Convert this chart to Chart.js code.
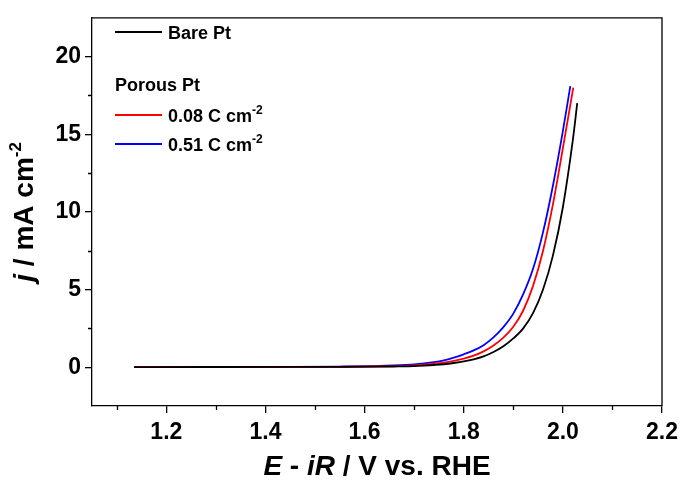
<!DOCTYPE html>
<html>
<head>
<meta charset="utf-8">
<script src="https://cdn.jsdelivr.net/npm/chart.js@4/dist/chart.umd.min.js"></script>
<style>
  html, body { margin: 0; padding: 0; background: #fff; }
  canvas { display: block; }
</style>
</head>
<body>
<canvas id="lsv" width="685" height="481"></canvas>
<script>
// ==================
//  DATOS
// ==================
const bareE = [1.135, 1.30, 1.45, 1.55, 1.62, 1.66, 1.70, 1.72, 1.74, 1.76, 1.78, 1.80, 1.82, 1.84, 1.86, 1.88, 1.90, 1.92, 1.94, 1.96, 1.98, 2.00, 2.02, 2.029];
const bareJ = [0, 0.01, 0.015, 0.02, 0.03, 0.045, 0.07, 0.10, 0.14, 0.19, 0.27, 0.37, 0.51, 0.70, 0.98, 1.35, 1.85, 2.5, 3.5, 5.0, 7.2, 10.3, 14.6, 17.0];

const lowE = [1.135, 1.30, 1.45, 1.55, 1.62, 1.66, 1.70, 1.72, 1.74, 1.76, 1.78, 1.80, 1.82, 1.84, 1.86, 1.88, 1.90, 1.92, 1.94, 1.96, 1.98, 2.00, 2.021];
const lowJ = [0, 0.01, 0.015, 0.025, 0.045, 0.07, 0.12, 0.17, 0.23, 0.30, 0.41, 0.55, 0.74, 1.02, 1.40, 1.9, 2.6, 3.65, 5.25, 7.5, 10.5, 14.1, 18.0];

const highE = [1.135, 1.30, 1.45, 1.55, 1.62, 1.66, 1.70, 1.72, 1.74, 1.76, 1.78, 1.80, 1.82, 1.84, 1.86, 1.88, 1.90, 1.92, 1.94, 1.96, 1.98, 2.00, 2.015];
const highJ = [0, 0.01, 0.02, 0.04, 0.07, 0.11, 0.18, 0.24, 0.32, 0.44, 0.61, 0.83, 1.08, 1.42, 1.92, 2.58, 3.45, 4.7, 6.35, 8.7, 11.7, 15.2, 18.1];

const xTicks = [1.2, 1.4, 1.6, 1.8, 2.0, 2.2];
const xMinor = [1.1, 1.3, 1.5, 1.7, 1.9, 2.1];
const yTicks = [0, 5, 10, 15, 20];
const yMinor = [2.5, 7.5, 12.5, 17.5];

const FONT = "'Liberation Sans', Arial, sans-serif";

function pts(xs, ys) {
  return xs.map((x, i) => ({ x: x, y: ys[i] }));
}

// texto con tramos de distinto estilo (cursiva, superíndice)
function drawRich(ctx, parts, x, y, align) {
  let total = 0;
  parts.forEach((p) => { ctx.font = p.font; total += ctx.measureText(p.text).width; });
  let cx = align === "center" ? x - total / 2 : x;
  ctx.textBaseline = "alphabetic";
  ctx.textAlign = "left";
  parts.forEach((p) => {
    ctx.font = p.font;
    ctx.fillText(p.text, cx, y + (p.dy || 0));
    cx += ctx.measureText(p.text).width;
  });
}

// ==================
//  PLUGIN: marco, ticks menores, títulos, leyenda
// ==================
const decor = {
  id: "decor",
  afterDraw(chart) {
    const ctx = chart.ctx;
    const a = chart.chartArea;
    const xs = chart.scales.x;
    const ys = chart.scales.y;
    ctx.save();
    ctx.strokeStyle = "#000";
    ctx.lineWidth = 1.3;

    // marco superior y derecho
    ctx.beginPath();
    ctx.moveTo(a.left, a.top);
    ctx.lineTo(a.right, a.top);
    ctx.lineTo(a.right, a.bottom);
    ctx.stroke();

    // ticks menores
    ctx.beginPath();
    xMinor.forEach((v) => {
      const px = Math.round(xs.getPixelForValue(v)) + 0.5;
      ctx.moveTo(px, a.bottom);
      ctx.lineTo(px, a.bottom + 4);
    });
    yMinor.forEach((v) => {
      const py = Math.round(ys.getPixelForValue(v)) + 0.5;
      ctx.moveTo(a.left - 4, py);
      ctx.lineTo(a.left, py);
    });
    ctx.stroke();

    ctx.fillStyle = "#000";
    // título eje X
    drawRich(ctx, [
      { text: "E", font: `italic bold 28px ${FONT}` },
      { text: " - ", font: `bold 28px ${FONT}` },
      { text: "iR", font: `italic bold 28px ${FONT}` },
      { text: " / V vs. RHE", font: `bold 28px ${FONT}` },
    ], (a.left + a.right) / 2, 475, "center");

    // título eje Y
    ctx.save();
    ctx.translate(33, (a.top + a.bottom) / 2);
    ctx.rotate(-Math.PI / 2);
    drawRich(ctx, [
      { text: "j", font: `italic bold 28px ${FONT}` },
      { text: " / mA cm", font: `bold 28px ${FONT}` },
      { text: "-2", font: `bold 17px ${FONT}`, dy: -12 },
    ], 0, 0, "center");
    ctx.restore();

    // leyenda
    const legend = [
      { y: 32, color: "#000000", parts: [{ text: "Bare Pt", font: `bold 18px ${FONT}` }] },
      { y: 115, color: "#ff0000", parts: [
        { text: "0.08 C cm", font: `bold 18px ${FONT}` },
        { text: "-2", font: `bold 12px ${FONT}`, dy: -8 },
      ] },
      { y: 144, color: "#0000ff", parts: [
        { text: "0.51 C cm", font: `bold 18px ${FONT}` },
        { text: "-2", font: `bold 12px ${FONT}`, dy: -8 },
      ] },
    ];
    legend.forEach((l) => {
      ctx.strokeStyle = l.color;
      ctx.lineWidth = 1.8;
      ctx.beginPath();
      ctx.moveTo(115, l.y);
      ctx.lineTo(162, l.y);
      ctx.stroke();
      ctx.fillStyle = "#000";
      drawRich(ctx, l.parts, 168, l.y + 6.5, "left");
    });
    drawRich(ctx, [{ text: "Porous Pt", font: `bold 18px ${FONT}` }], 115, 91, "left");

    ctx.restore();
  },
};

// ==================
//  GRÁFICO
// ==================
const lineDs = (label, xs, ys, color) => ({
  label: label,
  data: pts(xs, ys),
  borderColor: color,
  borderWidth: 1.8,
  pointRadius: 0,
  fill: false,
  cubicInterpolationMode: "monotone",
});

new Chart(document.getElementById("lsv").getContext("2d"), {
  type: "line",
  data: {
    datasets: [
      lineDs("Bare Pt", bareE, bareJ, "#000000"),
      lineDs("0.08 C cm-2", lowE, lowJ, "#ff0000"),
      lineDs("0.51 C cm-2", highE, highJ, "#0000ff"),
    ],
  },
  options: {
    responsive: false,
    animation: false,
    layout: { padding: { top: 6, right: 23, left: 0, bottom: 0 } },
    plugins: {
      legend: { display: false },
      tooltip: { enabled: false },
    },
    scales: {
      x: {
        type: "linear",
        min: 1.05,
        max: 2.2,
        afterBuildTicks: (s) => { s.ticks = xTicks.map((v) => ({ value: v })); },
        afterFit: (s) => { s.height = 75; },
        grid: { drawOnChartArea: false, drawTicks: true, tickLength: 7, color: "#000", lineWidth: 1.3 },
        border: { display: true, color: "#000", width: 1.3 },
        ticks: {
          padding: 6,
          color: "#000",
          maxRotation: 0,
          font: { family: FONT, size: 23, weight: "bold" },
          callback: (v) => Number(v).toFixed(1),
        },
      },
      y: {
        type: "linear",
        min: -2.5,
        max: 22.5,
        afterBuildTicks: (s) => { s.ticks = yTicks.map((v) => ({ value: v })); },
        afterFit: (s) => { s.width = 92; },
        grid: { drawOnChartArea: false, drawTicks: true, tickLength: 7, color: "#000", lineWidth: 1.3 },
        border: { display: true, color: "#000", width: 1.3 },
        ticks: {
          padding: 4,
          color: "#000",
          font: { family: FONT, size: 23, weight: "bold" },
          callback: (v) => String(v),
        },
      },
    },
  },
  plugins: [decor],
});
</script>
</body>
</html>
